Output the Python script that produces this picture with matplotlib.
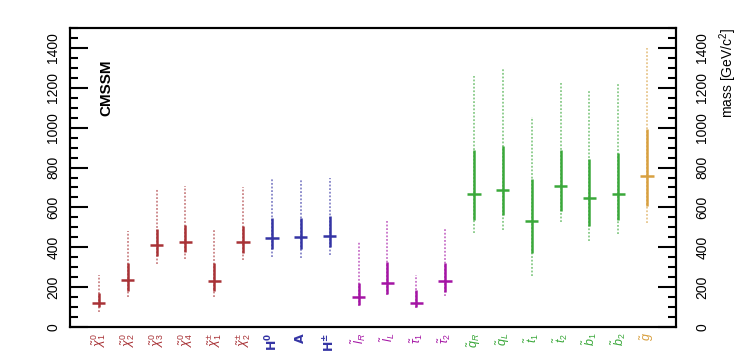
import matplotlib
matplotlib.use("Agg")
import matplotlib.pyplot as plt
from matplotlib.ticker import MultipleLocator

plt.rcParams['font.family'] = ['Liberation Sans', 'DejaVu Sans']
plt.rcParams['mathtext.fontset'] = 'custom'
plt.rcParams['mathtext.rm'] = 'Liberation Sans'
plt.rcParams['mathtext.it'] = 'Liberation Sans:italic'

# sparticle labels and groups
labels = [r'$\tilde{\chi}^{0}_{1}$', r'$\tilde{\chi}^{0}_{2}$', r'$\tilde{\chi}^{0}_{3}$',
          r'$\tilde{\chi}^{0}_{4}$', r'$\tilde{\chi}^{\pm}_{1}$', r'$\tilde{\chi}^{\pm}_{2}$',
          r'$\mathbf{H^{0}}$', r'$\mathbf{A}$', r'$\mathbf{H^{\pm}}$',
          r'$\tilde{l}_{R}$', r'$\tilde{l}_{L}$', r'$\tilde{\tau}_{1}$', r'$\tilde{\tau}_{2}$',
          r'$\tilde{q}_{R}$', r'$\tilde{q}_{L}$', r'$\tilde{t}_{1}$', r'$\tilde{t}_{2}$',
          r'$\tilde{b}_{1}$', r'$\tilde{b}_{2}$', r'$\tilde{g}$']
groups = ['chi'] * 6 + ['higgs'] * 3 + ['slep'] * 4 + ['squark'] * 6 + ['gluino']

# masses [GeV/c^2]
center = [122, 235, 412, 427, 233, 425, 448, 453, 458, 148, 220, 122, 232,
          665, 687, 530, 707, 647, 665, 758]
solid_lo = [100, 180, 357, 377, 182, 373, 393, 393, 402, 110, 168, 102, 177,
            538, 560, 372, 582, 507, 538, 607]
solid_hi = [173, 322, 493, 513, 323, 507, 548, 548, 557, 223, 327, 185, 323,
            888, 910, 740, 888, 843, 872, 993]
dot_lo = [77, 148, 318, 343, 152, 338, 352, 348, 363, 105, 160, 93, 157,
          472, 488, 255, 527, 432, 468, 523]
dot_hi = [260, 480, 693, 705, 485, 702, 743, 743, 748, 427, 532, 263, 493,
          1260, 1298, 1055, 1223, 1182, 1223, 1402]

colors = {'chi': '#a83236', 'higgs': '#3434a4', 'slep': '#a414a4',
          'squark': '#3aa83a', 'gluino': '#d8a040'}

fig = plt.figure(figsize=(7.47, 3.56), dpi=100)
ax = fig.add_axes([0.0937, 0.0815, 0.8112, 0.8398])

for i in range(len(center)):
    c = colors[groups[i]]
    ax.vlines(i, dot_lo[i], dot_hi[i], colors=c, linestyles=(0, (1, 1)), lw=1.3, alpha=0.6)
    ax.vlines(i, solid_lo[i], solid_hi[i], colors=c, lw=1.8)
    ax.hlines(center[i], i - 0.23, i + 0.23, colors=c, lw=1.8)

ax.set_xlim(-1, 20)
ax.set_ylim(0, 1500)
ax.set_xticks(range(len(labels)))
ax.set_xticklabels(labels, rotation=90, fontsize=9)
for t, g in zip(ax.get_xticklabels(), groups):
    t.set_color(colors[g])
ax.tick_params(axis='x', length=0, pad=4)

ax.yaxis.set_major_locator(MultipleLocator(200))
ax.yaxis.set_minor_locator(MultipleLocator(50))
ax.tick_params(axis='y', which='major', direction='in', length=13, width=1.5,
               labelsize=10, pad=7, labelrotation=90)
ax.tick_params(axis='y', which='minor', direction='in', length=6, width=1.5)
for t in ax.get_yticklabels():
    t.set_va('center')

ax2 = ax.twinx()
ax2.set_ylim(0, 1500)
ax2.yaxis.set_major_locator(MultipleLocator(200))
ax2.yaxis.set_minor_locator(MultipleLocator(50))
ax2.tick_params(axis='y', which='major', direction='in', length=13, width=1.5,
                labelsize=10, pad=14, labelrotation=90)
ax2.tick_params(axis='y', which='minor', direction='in', length=6, width=1.5)
for t in ax2.get_yticklabels():
    t.set_va('center')
ax2.set_ylabel(r'mass [GeV/c$^{2}$]', fontsize=10, loc='top', labelpad=6)

for a in (ax, ax2):
    for s in a.spines.values():
        s.set_linewidth(1.5)

ax.text(0.25, 1200, 'CMSSM', rotation=90, fontsize=11, fontweight='bold',
        ha='center', va='center')

fig.savefig('out.png', dpi=100, facecolor='white')
